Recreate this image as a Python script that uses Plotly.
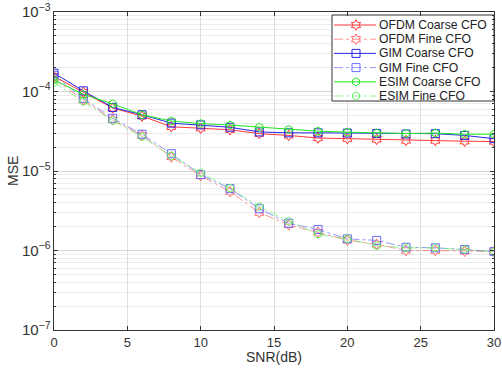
import plotly.graph_objects as go

snr = [0, 2, 4, 6, 8, 10, 12, 14, 16, 18, 20, 22, 24, 26, 28, 30]

ofdm_coarse = [1.55e-4, 9.8e-5, 6.2e-5, 4.9e-5, 3.6e-5, 3.45e-5, 3.3e-5, 2.95e-5, 2.8e-5, 2.6e-5, 2.55e-5, 2.5e-5, 2.42e-5, 2.42e-5, 2.37e-5, 2.35e-5]
ofdm_fine = [1.45e-4, 7.8e-5, 4.4e-5, 2.8e-5, 1.5e-5, 8.7e-6, 5.5e-6, 3.0e-6, 2.1e-6, 1.7e-6, 1.35e-6, 1.2e-6, 1.0e-6, 1.0e-6, 0.98e-6, 0.97e-6]
gim_coarse = [1.7e-4, 1.02e-4, 6.3e-5, 5.1e-5, 4.0e-5, 3.8e-5, 3.55e-5, 3.1e-5, 3.02e-5, 3.02e-5, 3.0e-5, 2.97e-5, 2.92e-5, 2.95e-5, 2.8e-5, 2.55e-5]
gim_fine = [1.6e-4, 8.2e-5, 4.6e-5, 2.9e-5, 1.65e-5, 9.0e-6, 6.0e-6, 3.35e-6, 2.2e-6, 1.84e-6, 1.4e-6, 1.34e-6, 1.1e-6, 1.08e-6, 1.03e-6, 0.97e-6]
esim_coarse = [1.4e-4, 9.2e-5, 7.0e-5, 5.1e-5, 4.25e-5, 3.95e-5, 3.78e-5, 3.56e-5, 3.33e-5, 3.17e-5, 3.08e-5, 3.0e-5, 2.96e-5, 3.0e-5, 2.9e-5, 2.9e-5]
esim_fine = [1.3e-4, 7.5e-5, 4.3e-5, 2.7e-5, 1.55e-5, 9.5e-6, 6.1e-6, 3.55e-6, 2.34e-6, 1.6e-6, 1.4e-6, 1.15e-6, 1.08e-6, 1.08e-6, 1.03e-6, 0.97e-6]

names = ["OFDM Coarse CFO", "OFDM Fine CFO", "GIM Coarse CFO", "GIM Fine CFO", "ESIM Coarse CFO", "ESIM Fine CFO"]
series = [ofdm_coarse, ofdm_fine, gim_coarse, gim_fine, esim_coarse, esim_fine]
colors = ["#ff3838", "#ff6a6a", "#2828e8", "#6a6aff", "#22e622", "#66f066"]
symbols = ["hexagram-open", "hexagram-open", "square-open", "square-open", "hexagon-open", "hexagon-open"]
dashes = ["solid", "dashdot", "solid", "dashdot", "solid", "dashdot"]
widths = [1.0, 0.7, 1.0, 0.7, 1.0, 0.7]

W, H = 502, 374
L, R, T, B = 54, 8, 12, 44
PW, PH = W - L - R, H - T - B
FONT = "Liberation Sans, Arial, sans-serif"

fig = go.Figure()
for n, y, c, s, d, w in zip(names, series, colors, symbols, dashes, widths):
    fig.add_trace(go.Scatter(x=snr, y=y, name=n, mode="lines+markers", showlegend=False,
                             line=dict(color=c, dash=d, width=w),
                             marker=dict(symbol=s, size=8, color=c, line=dict(color=c, width=1))))

# --- legend drawn in pixel space on an overlay axis pair ---
leg_left, leg_right, leg_top, leg_bottom = 332, 494, 15, 101
row_h = 14.2
first_row = 25
sample_x0, sample_x1, sample_mid, text_x = 334, 376, 356, 377
fig.add_trace(go.Scatter(x=[leg_left, leg_right, leg_right, leg_left, leg_left],
                         y=[leg_top, leg_top, leg_bottom, leg_bottom, leg_top],
                         xaxis="x2", yaxis="y2", mode="lines", fill="toself", fillcolor="white",
                         line=dict(color="#333", width=1), showlegend=False, hoverinfo="skip"))
for i, (n, c, s, d, w) in enumerate(zip(names, colors, symbols, dashes, widths)):
    yc = first_row + i * row_h
    fig.add_trace(go.Scatter(x=[sample_x0, sample_mid, sample_x1], y=[yc, yc, yc], xaxis="x2", yaxis="y2",
                             mode="lines", showlegend=False, hoverinfo="skip",
                             line=dict(color=c, dash=d, width=w)))
    fig.add_trace(go.Scatter(x=[sample_mid], y=[yc], xaxis="x2", yaxis="y2",
                             mode="markers", showlegend=False, hoverinfo="skip",
                             marker=dict(symbol=s, size=8, color=c, line=dict(color=c, width=1))))
    fig.add_annotation(x=(text_x - L) / PW, y=(H - B - yc) / PH, xref="paper", yref="paper", text=n,
                       showarrow=False, xanchor="left", yanchor="middle",
                       font=dict(size=12.2, color="#222", family=FONT))

# axis titles
fig.add_annotation(x=(13 - L) / PW, y=0.5, xref="paper", yref="paper", text="MSE",
                   textangle=-90, showarrow=False, xanchor="center", yanchor="middle",
                   font=dict(size=14, color="#333", family=FONT))
fig.add_annotation(x=0.5, y=(H - B - 357) / PH, xref="paper", yref="paper", text="SNR(dB)",
                   showarrow=False, xanchor="center", yanchor="middle",
                   font=dict(size=14, color="#333", family=FONT))

fig.update_layout(
    width=W, height=H,
    margin=dict(l=L, r=R, t=T, b=B, autoexpand=False),
    paper_bgcolor="white", plot_bgcolor="white",
    font=dict(family=FONT, size=13, color="#333"),
    showlegend=False,
    xaxis2=dict(overlaying="x", range=[L, W - R], visible=False, fixedrange=True),
    yaxis2=dict(overlaying="y", range=[H - B, T], visible=False, fixedrange=True),
)
fig.layout.xaxis.update(range=[0, 30], dtick=5, showgrid=True, gridcolor="#dedede",
                        zeroline=False, showline=True, linecolor="#333", mirror="ticks",
                        ticks="inside", ticklen=4, tickcolor="#333", automargin=False,
                        tickfont=dict(size=13))
fig.layout.yaxis.update(type="log", range=[-7, -3], dtick=1, exponentformat="power",
                        showgrid=True, gridcolor="#d8d8d8", zeroline=False,
                        showline=True, linecolor="#333", mirror="ticks",
                        ticks="inside", ticklen=4, tickcolor="#333", automargin=False,
                        minor=dict(showgrid=True, gridcolor="#ececec", dtick="D1",
                                   ticks="inside", ticklen=2, tickcolor="#333"),
                        tickfont=dict(size=12))

fig.write_html("out.html", config={"displayModeBar": False},
               post_script="document.body.style.margin='0px';document.body.style.padding='0px';")
